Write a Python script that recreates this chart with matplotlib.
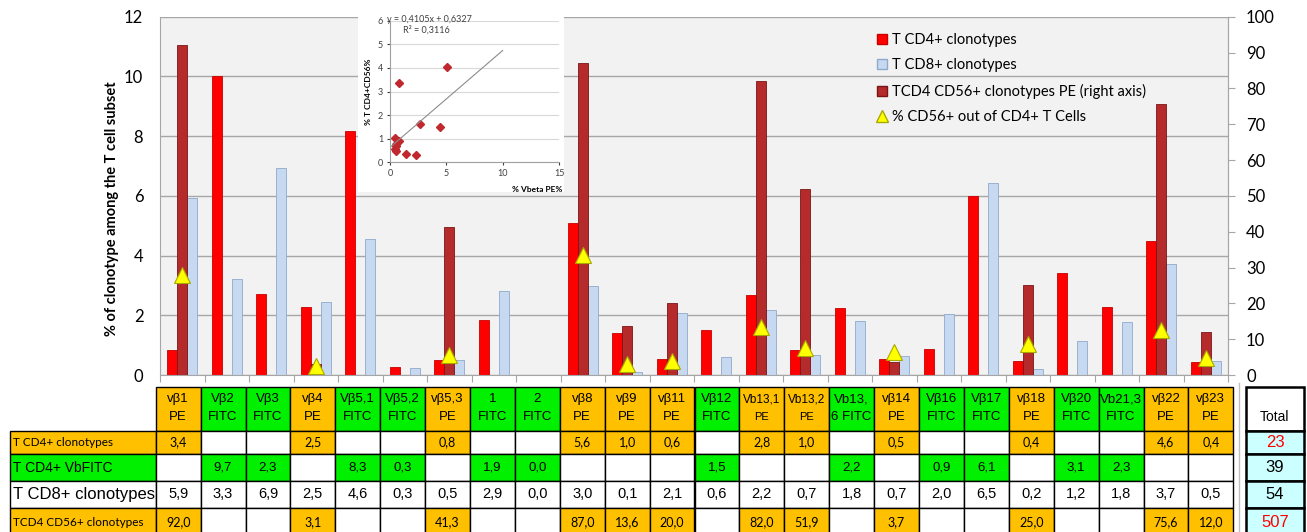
import numpy as np
import matplotlib.pyplot as plt
from matplotlib.patches import Rectangle
from matplotlib.lines import Line2D

plt.rcParams['font.family'] = ['Lato', 'DejaVu Sans']

W, H = 1307, 532

# categories (column headers of the table under the chart)
headers = ['vβ1\nPE', 'Vβ2\nFITC', 'Vβ3\nFITC', 'vβ4\nPE', 'Vβ5,1\nFITC', 'Vβ5,2\nFITC',
           'vβ5,3\nPE', '1\nFITC', '2\nFITC', 'vβ8\nPE', 'vβ9\nPE', 'vβ11\nPE',
           'Vβ12\nFITC', 'Vb13,1\nPE', 'Vb13,2\nPE', 'Vb13,\n6 FITC', 'vβ14\nPE', 'Vβ16\nFITC',
           'Vβ17\nFITC', 'vβ18\nPE', 'Vβ20\nFITC', 'Vb21,3\nFITC', 'vβ22\nPE', 'vβ23\nPE']
is_pe = [h.endswith('PE') for h in headers]

# bar heights (left axis, %)
cd4_bar = [0.84, 10.0, 2.72, 2.29, 8.17, 0.28, 0.50, 1.84, 0.0, 5.10, 1.40, 0.55,
           1.51, 2.67, 0.84, 2.23, 0.53, 0.86, 5.99, 0.48, 3.40, 2.29, 4.48, 0.42]
cd8_bar = [5.94, 3.23, 6.94, 2.46, 4.54, 0.25, 0.50, 2.82, 0.0, 2.98, 0.11, 2.07,
           0.59, 2.18, 0.67, 1.82, 0.64, 2.03, 6.44, 0.19, 1.15, 1.76, 3.71, 0.47]
nan = np.nan
# % CD56+ out of CD4+ T cells (triangles, left axis)
cd56_pct = [3.35, nan, nan, 0.30, nan, nan, 0.67, nan, nan, 4.02, 0.37, 0.47,
            nan, 1.62, 0.89, nan, 0.76, nan, nan, 1.04, nan, nan, 1.51, 0.56]

# table rows
row_cd4 = [3.4, None, None, 2.5, None, None, 0.8, None, None, 5.6, 1.0, 0.6,
           None, 2.8, 1.0, None, 0.5, None, None, 0.4, None, None, 4.6, 0.4]
row_fitc = [None, 9.7, 2.3, None, 8.3, 0.3, None, 1.9, 0.0, None, None, None,
            1.5, None, None, 2.2, None, 0.9, 6.1, None, 3.1, 2.3, None, None]
row_cd8 = [5.9, 3.3, 6.9, 2.5, 4.6, 0.3, 0.5, 2.9, 0.0, 3.0, 0.1, 2.1,
           0.6, 2.2, 0.7, 1.8, 0.7, 2.0, 6.5, 0.2, 1.2, 1.8, 3.7, 0.5]
row_cd56 = [92.0, None, None, 3.1, None, None, 41.3, None, None, 87.0, 13.6, 20.0,
            None, 82.0, 51.9, None, 3.7, None, None, 25.0, None, None, 75.6, 12.0]
row_names = ['T CD4+ clonotypes', 'T CD4+ VbFITC', 'T CD8+ clonotypes', 'TCD4 CD56+ clonotypes']
totals = ['23', '39', '54', '507']
total_red = [True, False, False, True]

# inset trend line
trend_slope, trend_icpt = 0.4105, 0.6327
trend_x = [0, 10]

ORANGE = '#FFC000'
GREEN = '#00F000'
GRAY = '#A6A6A6'

fig = plt.figure(figsize=(W / 100, H / 100), dpi=100)

# ---- main chart ----
ax = fig.add_axes([160 / W, 1 - 375 / H, (1228 - 160) / W, (375 - 16.7) / H])
ax.set_facecolor('#F2F2F2')
x = np.arange(len(headers))
bw = 0.225
ax.bar(x - bw, cd4_bar, bw, color='#FF0000', edgecolor='#C80000', lw=0.6, zorder=2)
ax.bar(x + bw, cd8_bar, bw, color='#C6D9F1', edgecolor='#8FAACB', lw=0.6, zorder=2)
ax.set_xlim(-0.5, len(x) - 0.5)
ax.set_ylim(0, 12)
ax.set_yticks(range(0, 13, 2))
ax.yaxis.grid(True, color=GRAY, lw=1)
ax.set_axisbelow(True)
ax.set_xticks(np.arange(-0.5, len(x)))
ax.set_xticklabels([])
ax.tick_params(axis='x', length=5, color=GRAY)
ax.tick_params(axis='y', length=0, labelsize=12, pad=12)
for s in ['left', 'bottom', 'right']:
    ax.spines[s].set_color(GRAY)
ax.spines['top'].set_visible(False)
fig.text(112 / W, 1 - 209 / H, '% of clonotype among the T cell subset', rotation=90,
         ha='center', va='center', fontsize=10.5, fontweight='bold')

ax2 = ax.twinx()
cd56_vals = [nan if v is None else v for v in row_cd56]
ax2.bar(x, cd56_vals, bw, color='#B52B2B', edgecolor='#7A1515', lw=0.6, zorder=2)
ax2.set_ylim(0, 100)
ax2.set_yticks(range(0, 101, 10))
ax2.tick_params(axis='y', length=5, color=GRAY, labelsize=12, pad=8)
for s in ax2.spines.values():
    s.set_visible(False)
ax2.spines['right'].set_visible(True)
ax2.spines['right'].set_color(GRAY)

ax3 = ax.twinx()
ax3.set_ylim(0, 12)
ax3.axis('off')
ax3.plot(x, cd56_pct, ls='none', marker='^', ms=11, mfc='#FFFF00', mec='#A8A800', mew=0.8)

handles = [Line2D([], [], ls='none', marker='s', ms=7, mfc='#FF0000', mec='#C80000'),
           Line2D([], [], ls='none', marker='s', ms=7, mfc='#C6D9F1', mec='#8FAACB'),
           Line2D([], [], ls='none', marker='s', ms=7, mfc='#B52B2B', mec='#7A1515'),
           Line2D([], [], ls='none', marker='^', ms=8, mfc='#FFFF00', mec='#A8A800')]
labels = ['T CD4+ clonotypes', 'T CD8+ clonotypes', 'TCD4 CD56+ clonotypes PE (right axis)',
          '% CD56+ out of CD4+ T Cells']
ax3.legend(handles, labels, loc='upper left', bbox_to_anchor=(876 / W, 1 - 33 / H),
           bbox_transform=fig.transFigure, frameon=False, fontsize=10.5, handlelength=0.8,
           handletextpad=0.3, labelspacing=0.78, borderaxespad=0, borderpad=0)

# ---- inset scatter ----
fig.add_artist(Rectangle((358 / W, 1 - 192 / H), (564 - 358) / W, (192 - 12) / H,
                         transform=fig.transFigure, facecolor='white', edgecolor='none', zorder=1))
ins = fig.add_axes([390 / W, 1 - 162.3 / H, 169 / W, 141.6 / H], zorder=2)
px = [c for c, pe in zip(cd4_bar, is_pe) if pe]
py = [c for c, pe in zip(cd56_pct, is_pe) if pe]
ins.plot(px, py, ls='none', marker='D', ms=4, color='#C0282D')
tx = np.array(trend_x)
ins.plot(tx, trend_slope * tx + trend_icpt, color='#8C8C8C', lw=0.8)
ins.set_xlim(0, 15)
ins.set_ylim(0, 6)
ins.set_xticks([0, 5, 10, 15])
ins.set_yticks(range(7))
ins.yaxis.grid(True, color='#D9D9D9', lw=0.8)
ins.set_axisbelow(True)
for s in ['top', 'right']:
    ins.spines[s].set_visible(False)
for s in ['left', 'bottom']:
    ins.spines[s].set_color('#A0A0A0')
ins.tick_params(labelsize=6.5, colors='#404040', length=2, pad=3)
ins.set_ylabel('% T CD4+CD56%', fontsize=6, fontweight='bold', labelpad=4)
fig.text(562 / W, 1 - 189 / H, '% Vbeta PE%', fontsize=6, fontweight='bold', ha='right', va='center')
fig.text(387 / W, 1 - 19 / H, 'y = 0,4105x + 0,6327', fontsize=6.5, va='center', color='#404040', zorder=3)
fig.text(403 / W, 1 - 30 / H, 'R² = 0,3116', fontsize=6.5, va='center', color='#404040', zorder=3)

# ---- table under the chart ----
tb = fig.add_axes([0, 0, 1, 1], zorder=-1)
tb.set_xlim(0, W)
tb.set_ylim(H, 0)
tb.axis('off')

col_x0, col_w = 155.7, 44.9
lab_x0 = 10
row_y = [387, 431, 454, 481, 508, 537]
arial = ['Liberation Sans', 'DejaVu Sans']


def cell(x0, y0, w, h, fc, lw=1.0):
    tb.add_patch(Rectangle((x0, y0), w, h, facecolor=fc, edgecolor='black', lw=lw))


def fmt(v):
    return '' if v is None else f'{v:.1f}'.replace('.', ',')


# header row
for i, h in enumerate(headers):
    cx = col_x0 + i * col_w
    cell(cx, row_y[0], col_w, row_y[1] - row_y[0], ORANGE if is_pe[i] else GREEN)
    small = h.startswith('Vb13,') and h.endswith('PE')
    for k, part in enumerate(h.split('\n')):
        fs = 8 if (small and k == 1) else (8.5 if small else 9.5)
        tb.text(cx + col_w / 2, 399 + k * 18, part, ha='center', va='center',
                fontsize=fs, family=arial)

rows = [row_cd4, row_fitc, row_cd8, row_cd56]
row_fill = [ORANGE, GREEN, 'white', ORANGE]
lab_font = [(['Lato'], 8.5), (arial, 10), (arial, 12), (['Lato'], 8.5)]
val_font = [(['Lato'], 9), (arial, 9.5), (arial, 10.5), (['Lato'], 9)]
for r, vals in enumerate(rows):
    y0, y1 = row_y[r + 1], row_y[r + 2]
    yc = (y0 + y1) / 2
    cell(lab_x0, y0, col_x0 - lab_x0, y1 - y0, row_fill[r])
    tb.text(lab_x0 + 3, yc, row_names[r], ha='left', va='center',
            fontsize=lab_font[r][1], family=lab_font[r][0])
    for i, v in enumerate(vals):
        cx = col_x0 + i * col_w
        fc = 'white' if (v is None or r == 2) else row_fill[r]
        cell(cx, y0, col_w, y1 - y0, fc)
        tb.text(cx + col_w / 2, yc, fmt(v), ha='center', va='center',
                fontsize=val_font[r][1], family=val_font[r][0])

# totals column
tot_x0, tot_x1 = 1246, 1304
tb.plot([1239, 1239], [383, H], color='#BFBFBF', lw=1)
cell(tot_x0, row_y[0], tot_x1 - tot_x0, row_y[1] - row_y[0], 'white', lw=1.8)
tb.text((tot_x0 + tot_x1) / 2, 417, 'Total', ha='center', va='center', fontsize=10, family=arial)
for r, t in enumerate(totals):
    y0, y1 = row_y[r + 1], row_y[r + 2]
    cell(tot_x0, y0, tot_x1 - tot_x0, y1 - y0, '#CCFFFF', lw=1.8)
    tb.text((tot_x0 + tot_x1) / 2, (y0 + y1) / 2, t, ha='center', va='center', fontsize=12,
            family=arial, color='#FF0000' if total_red[r] else 'black')

fig.savefig('out.png', dpi=100)
